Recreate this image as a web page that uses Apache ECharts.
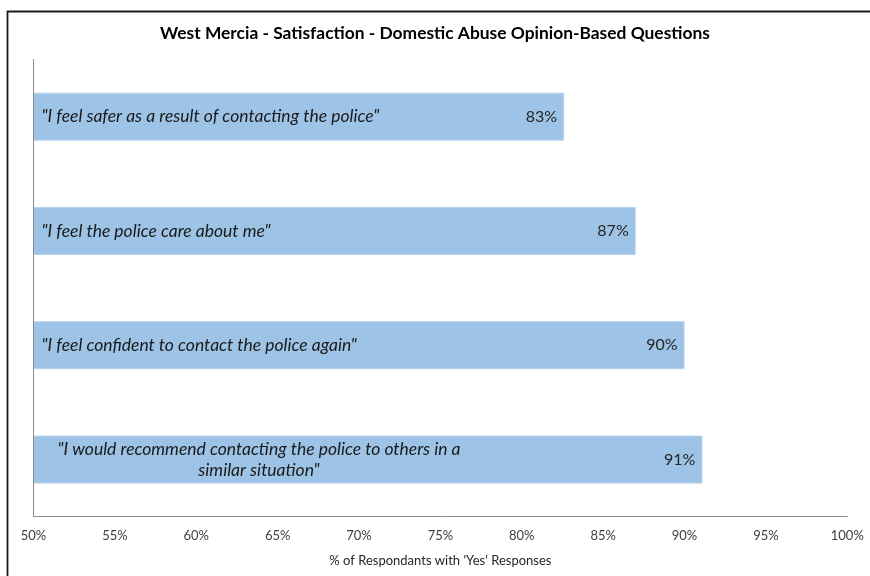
<!DOCTYPE html>
<html>
<head>
<meta charset="utf-8">
<script src="https://cdn.jsdelivr.net/npm/echarts@6/dist/echarts.min.js"></script>
<style>
html,body{margin:0;padding:0;background:#fff;}
#chart{width:870px;height:576px;}
</style>
</head>
<body>
<div id="chart"></div>
<script>
// Categories (top to bottom as shown)
var categories = [
  '"I feel safer as a result of contacting the police"',
  '"I feel the police care about me"',
  '"I feel confident to contact the police again"',
  '"I would recommend contacting the police to others in a\nsimilar situation"'
];
var values = [82.6, 87.0, 90.0, 91.1];
var tickLabels = ['50%','55%','60%','65%','70%','75%','80%','85%','90%','95%','100%'];

var FONT = 'Lato, "Open Sans", sans-serif';
var chart = echarts.init(document.getElementById('chart'), null, {renderer:'canvas'});

// reverse order so first category is on top
var catRev = categories.slice().reverse();
var valRev = values.slice().reverse();

chart.setOption({
  backgroundColor: '#fff',
  animation: false,
  title: {
    text: 'West Mercia - Satisfaction - Domestic Abuse Opinion-Based Questions',
    left: 'center',
    top: 20,
    textStyle: {fontFamily: FONT, fontSize: 17.4, fontWeight: 'bold', color: '#000'}
  },
  graphic: [{
    type: 'rect',
    shape: {x: 7.5, y: 11.5, width: 900, height: 600},
    style: {fill: 'none', stroke: '#1a1a1a', lineWidth: 1.8},
    z: 100
  }],
  grid: {left: 33.5, right: 22.7, top: 59.5, bottom: 59.3, containLabel: false},
  xAxis: {
    type: 'value',
    min: 50, max: 100, interval: 5,
    axisLine: {show: true, lineStyle: {color: '#8c8c8c', width: 1}},
    axisTick: {show: false},
    splitLine: {show: false},
    axisLabel: {
      margin: 13,
      fontFamily: FONT, fontSize: 13, color: '#404040',
      formatter: function (v) { return tickLabels[Math.round((v - 50) / 5)]; }
    },
    name: "% of Respondants with 'Yes' Responses",
    nameLocation: 'middle',
    nameGap: 38,
    nameTextStyle: {fontFamily: FONT, fontSize: 13, color: '#262626'}
  },
  yAxis: {
    type: 'category',
    data: catRev,
    z: 10,
    axisLine: {show: true, lineStyle: {color: '#8c8c8c', width: 1}},
    axisTick: {show: false},
    axisLabel: {
      inside: true,
      margin: 8,
      align: 'left',
      fontFamily: FONT, fontSize: 17.5, fontStyle: 'italic', color: '#1a1a1a',
      formatter: function (v) {
        if (v.indexOf('\n') >= 0) {
          var parts = v.split('\n');
          return '{c|' + parts[0] + '}\n{c|' + parts[1] + '}';
        }
        return v;
      },
      rich: {
        c: {width: 435, align: 'center', fontFamily: FONT, fontSize: 17.5, fontStyle: 'italic', color: '#1a1a1a', lineHeight: 21}
      }
    }
  },
  series: [{
    type: 'bar',
    data: valRev,
    barCategoryGap: '58%',
    itemStyle: {color: '#9dc3e6', borderColor: '#b7d3ee', borderWidth: 1},
    label: {
      show: true,
      position: 'insideRight',
      distance: 7,
      fontFamily: FONT, fontSize: 16, color: '#262626',
      formatter: function (p) { return Math.round(p.value) + '%'; }
    }
  }]
});
</script>
</body>
</html>
